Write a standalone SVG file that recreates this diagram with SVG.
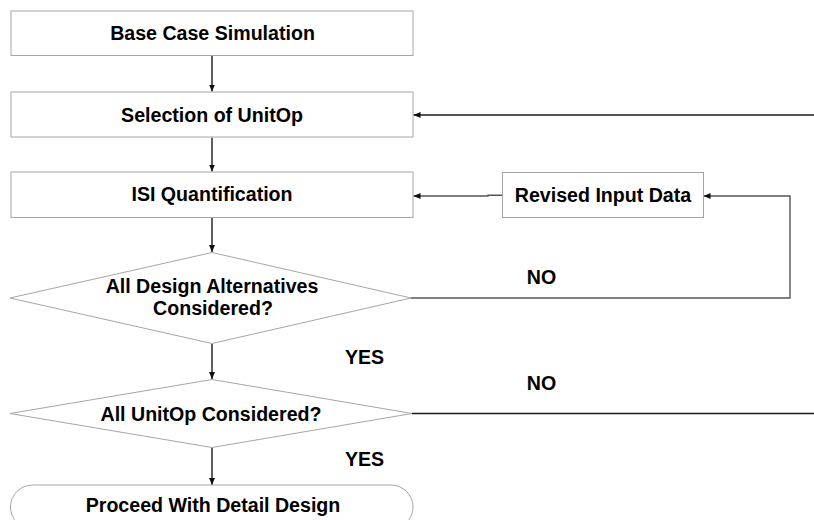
<svg xmlns="http://www.w3.org/2000/svg" width="814" height="520" viewBox="0 0 814 520">
<style>
.n{fill:#fff;stroke:#a6a6a6;stroke-width:1}
.t{font-family:"Liberation Sans",Arial,sans-serif;font-weight:bold;font-size:19.6px;fill:#000;text-anchor:middle}
.c{fill:none;stroke:#1a1a1a;stroke-width:1.4}
.g{fill:none;stroke:#555;stroke-width:1.4}
</style>
<defs>
<marker id="ah" markerUnits="userSpaceOnUse" markerWidth="8" markerHeight="8" refX="7" refY="3" orient="auto">
<path d="M0,0 L7,3 L0,6 z" fill="#111"/>
</marker>
</defs>
<rect width="814" height="520" fill="#fff"/>
<g id="connectors">
<line class="c" x1="212" y1="56" x2="212" y2="91.5" marker-end="url(#ah)"/>
<line class="c" x1="212" y1="137.5" x2="212" y2="171.5" marker-end="url(#ah)"/>
<line class="c" x1="212" y1="218" x2="212" y2="252" marker-end="url(#ah)"/>
<line class="c" x1="212" y1="344" x2="212" y2="379" marker-end="url(#ah)"/>
<line class="c" x1="212" y1="447.5" x2="212" y2="485" marker-end="url(#ah)"/>
<line class="c" x1="814" y1="115" x2="413.5" y2="115" marker-end="url(#ah)"/>
<polyline class="g" points="502,195.3 488,195.3 488,196 413.5,196" marker-end="url(#ah)"/>
<polyline class="g" points="411,298 790,298 790,196 703.5,196" marker-end="url(#ah)"/>
<line class="c" x1="412" y1="413.5" x2="814" y2="413.5"/>
</g>
<g id="base">
<rect class="n" x="11" y="11" width="402" height="44.5"/>
<text class="t" x="212.5" y="40">Base Case Simulation</text>
</g>
<g id="selection">
<rect class="n" x="11" y="92" width="402" height="45"/>
<text class="t" x="212" y="122">Selection of UnitOp</text>
</g>
<g id="isi">
<rect class="n" x="11" y="172" width="402" height="45.5"/>
<text class="t" x="212" y="201">ISI Quantification</text>
</g>
<g id="revised">
<rect class="n" x="502.5" y="172.5" width="201" height="45"/>
<text class="t" x="603" y="202">Revised Input Data</text>
</g>
<g id="dec1">
<polygon class="n" points="212,252.5 411,298 212,343.5 10,298"/>
<text class="t" x="212" y="293">All Design Alternatives</text>
<text class="t" x="213" y="315">Considered?</text>
</g>
<g id="dec2">
<polygon class="n" points="212,379.5 412,413.5 212,447.5 10,413.5"/>
<text class="t" x="211" y="421">All UnitOp Considered?</text>
</g>
<g id="proceed">
<rect class="n" x="10.5" y="485" width="402.5" height="44" rx="22" ry="22"/>
<text class="t" x="213" y="512">Proceed With Detail Design</text>
</g>
<g id="labels">
<text class="t" x="541.5" y="284">NO</text>
<text class="t" x="541.5" y="390">NO</text>
<text class="t" x="364.5" y="364">YES</text>
<text class="t" x="364.5" y="466">YES</text>
</g>
</svg>
